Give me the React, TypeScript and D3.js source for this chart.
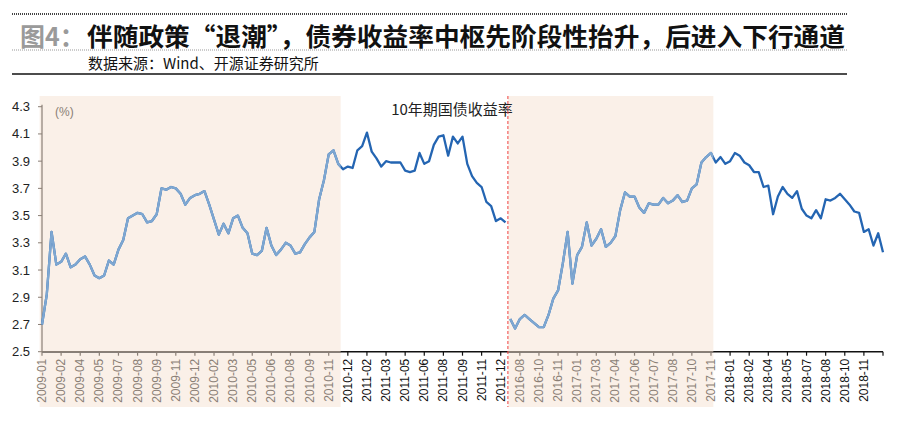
import * as d3 from 'd3';

const TITLE_TAG = '图4：';
const TITLE = '伴随政策“退潮”，债券收益率中枢先阶段性抬升，后进入下行通道';
const SOURCE = '数据来源：Wind、开源证券研究所';
const SERIES_NAME = '10年期国债收益率';
const UNIT = '(%)';

// one label every 4 samples along the trading-day axis
const TICK_LABELS = [
  '2009-01', '2009-02', '2009-04', '2009-05', '2009-07', '2009-08', '2009-09', '2009-11', '2009-12',
  '2010-02', '2010-03', '2010-05', '2010-06', '2010-08', '2010-09', '2010-11', '2010-12',
  '2011-02', '2011-03', '2011-05', '2011-06', '2011-08', '2011-09', '2011-11', '2011-12',
  '2016-08', '2016-10', '2016-11', '2017-01', '2017-03', '2017-04', '2017-06', '2017-07', '2017-08',
  '2017-10', '2017-11', '2018-01', '2018-02', '2018-04', '2018-05', '2018-07', '2018-08', '2018-10',
  '2018-11',
];
const TICK_EVERY = 4;

// 2009-01 .. 2011-12
const SEG1 = [
  2.70, 2.92, 3.38, 3.14, 3.16, 3.22, 3.12, 3.14, 3.18, 3.20,
  3.14, 3.06, 3.04, 3.06, 3.17, 3.14, 3.25, 3.32, 3.48, 3.50,
  3.52, 3.51, 3.45, 3.46, 3.51, 3.70, 3.69, 3.71, 3.70, 3.66,
  3.58, 3.63, 3.65, 3.66, 3.68, 3.58, 3.47, 3.36, 3.44, 3.37,
  3.48, 3.50, 3.41, 3.37, 3.22, 3.21, 3.24, 3.41, 3.28, 3.21,
  3.25, 3.30, 3.28, 3.22, 3.23, 3.29, 3.34, 3.38, 3.62, 3.76,
  3.95, 3.98, 3.88, 3.84, 3.86, 3.85, 3.98, 4.01, 4.11, 3.97,
  3.92, 3.86, 3.90, 3.89, 3.89, 3.89, 3.83, 3.82, 3.83, 3.96,
  3.88, 3.90, 4.02, 4.08, 4.09, 3.94, 4.08, 4.03, 4.08, 3.88,
  3.79, 3.74, 3.71, 3.60, 3.57, 3.46, 3.48, 3.45,
];

// 2016-08 .. 2018-12
const SEG2 = [
  2.74, 2.67, 2.74, 2.77, 2.74, 2.71, 2.68, 2.68, 2.77, 2.89,
  2.95, 3.15, 3.38, 3.00, 3.21, 3.27, 3.45, 3.28, 3.33, 3.40,
  3.27, 3.30, 3.35, 3.54, 3.67, 3.64, 3.64, 3.56, 3.52, 3.59,
  3.58, 3.58, 3.63, 3.59, 3.61, 3.65, 3.60, 3.61, 3.70, 3.73,
  3.89, 3.93, 3.96, 3.89, 3.93, 3.88, 3.90, 3.96, 3.94, 3.89,
  3.87, 3.82, 3.82, 3.71, 3.72, 3.51, 3.64, 3.71, 3.66, 3.63,
  3.68, 3.55, 3.50, 3.48, 3.54, 3.48, 3.62, 3.61, 3.63, 3.66,
  3.62, 3.58, 3.53, 3.52, 3.38, 3.40, 3.28, 3.37, 3.23,
];

// sample-index ranges under the beige bands
const SHADES: [number, number][] = [[0, 62], [98, 140]];

const Y_TICKS = [2.5, 2.7, 2.9, 3.1, 3.3, 3.5, 3.7, 3.9, 4.1, 4.3];

const WIDTH = 900;
const HEIGHT = 427;
const PLOT = { left: 42, right: 883, top: 106.7, bottom: 351.7 };
const BAND_TOP = 96;
const BAND_BOTTOM = 407;

const DARK = '#2465b2';
const LIGHT = '#7ea7d1';
const SHADE = '#faf0e8';
const FADED = '#8a7f76';
const SANS = '"Liberation Sans", Arial, sans-serif';
const CJK = '"Noto Sans CJK SC", sans-serif';

type Pt = [number, number];

export default function App() {
  const n = SEG1.length + SEG2.length;
  const x = d3.scaleLinear().domain([0, n - 1]).range([PLOT.left, PLOT.right]);
  const y = d3.scaleLinear().domain([2.5, 4.3]).range([PLOT.bottom, PLOT.top]);

  const pts1: Pt[] = SEG1.map((v, i) => [i, v]);
  const pts2: Pt[] = SEG2.map((v, i) => [i + SEG1.length, v]);
  const line = d3
    .line<Pt>()
    .x((d) => x(d[0]))
    .y((d) => y(d[1]));
  const paths = [line(pts1) ?? '', line(pts2) ?? ''];

  const inShade = (i: number) => SHADES.some(([a, b]) => i >= a - 0.5 && i <= b + 0.5);
  const breakX = x(SEG1.length - 0.5);

  const tickIdx = TICK_LABELS.map((_, i) => i * TICK_EVERY);

  return (
    <svg
      width={WIDTH}
      height={HEIGHT}
      viewBox={`0 0 ${WIDTH} ${HEIGHT}`}
      style={{ position: 'absolute', left: 0, top: 0, background: '#fff' }}
    >
      <defs>
        <clipPath id="shadeClip">
          {SHADES.map(([a, b]) => (
            <rect key={a} x={x(a - 0.5)} y={0} width={x(b + 0.5) - x(a - 0.5)} height={HEIGHT} />
          ))}
        </clipPath>
      </defs>

      {/* header */}
      <line x1={12} x2={847} y1={14} y2={14} stroke="#444" strokeWidth={2} strokeDasharray="1 1" />
      <text x={20} y={35} dominantBaseline="central" fontFamily={CJK} fontSize={25} fontWeight={700} fill="#9a9a9a">
        {TITLE_TAG}
      </text>
      <text
        x={87}
        y={35}
        dominantBaseline="central"
        fontFamily={CJK}
        fontSize={25}
        fontWeight={700}
        fill="#111"
        textLength={758}
        lengthAdjust="spacingAndGlyphs"
      >
        {TITLE}
      </text>
      <line x1={12} x2={847} y1={50} y2={50} stroke="#999" strokeWidth={1} strokeDasharray="1 1" />
      <text x={88} y={62} dominantBaseline="central" fontFamily={CJK} fontSize={15} fill="#111">
        {SOURCE}
      </text>
      <line x1={12} x2={847} y1={74} y2={74} stroke="#111" strokeWidth={1.5} />

      {/* beige bands */}
      {SHADES.map(([a, b]) => (
        <rect
          key={a}
          x={x(a - 0.5)}
          y={BAND_TOP}
          width={x(b + 0.5) - x(a - 0.5)}
          height={BAND_BOTTOM - BAND_TOP}
          fill={SHADE}
        />
      ))}

      {/* y axis */}
      <line x1={PLOT.left} x2={PLOT.left} y1={PLOT.top - 2} y2={PLOT.bottom} stroke={FADED} strokeWidth={1.2} />
      {Y_TICKS.map((t) => (
        <g key={t}>
          <line x1={PLOT.left - 4} x2={PLOT.left} y1={y(t)} y2={y(t)} stroke={FADED} strokeWidth={1} />
          <text
            x={30}
            y={y(t)}
            textAnchor="end"
            dominantBaseline="central"
            fontFamily={SANS}
            fontSize={13}
            fill="#222"
          >
            {t.toFixed(1)}
          </text>
        </g>
      ))}
      <text x={55} y={112} dominantBaseline="central" fontFamily={SANS} fontSize={12} fill={FADED}>
        {UNIT}
      </text>

      {/* x axis */}
      <line x1={PLOT.left} x2={PLOT.right} y1={PLOT.bottom} y2={PLOT.bottom} stroke="#111" strokeWidth={1.5} />
      <g clipPath="url(#shadeClip)">
        <line x1={PLOT.left} x2={PLOT.right} y1={PLOT.bottom} y2={PLOT.bottom} stroke={FADED} strokeWidth={1.5} />
      </g>
      {[...tickIdx, n - 1].map((i) => (
        <line
          key={i}
          x1={x(i)}
          x2={x(i)}
          y1={PLOT.bottom}
          y2={PLOT.bottom + 4}
          stroke={inShade(i) ? FADED : '#111'}
          strokeWidth={1.2}
        />
      ))}
      {TICK_LABELS.map((label, k) => {
        const i = tickIdx[k];
        return (
          <text
            key={label}
            transform={`translate(${x(i)},${PLOT.bottom + 7}) rotate(-90)`}
            textAnchor="end"
            dominantBaseline="central"
            fontFamily={SANS}
            fontSize={12}
            fill={inShade(i) ? FADED : '#111'}
          >
            {label}
          </text>
        );
      })}

      {/* yield line */}
      {paths.map((d, i) => (
        <path key={i} d={d} fill="none" stroke={DARK} strokeWidth={2.3} strokeLinejoin="round" />
      ))}
      <g clipPath="url(#shadeClip)">
        {paths.map((d, i) => (
          <path key={i} d={d} fill="none" stroke={LIGHT} strokeWidth={2.3} strokeLinejoin="round" />
        ))}
      </g>

      {/* series name and break marker */}
      <text
        x={452}
        y={108}
        textAnchor="middle"
        dominantBaseline="central"
        fontFamily={CJK}
        fontSize={15}
        fill="#222"
      >
        {SERIES_NAME}
      </text>
      <line
        x1={breakX}
        x2={breakX}
        y1={BAND_TOP}
        y2={BAND_BOTTOM}
        stroke="#f04040"
        strokeWidth={1}
        strokeDasharray="3 2"
      />
    </svg>
  );
}
